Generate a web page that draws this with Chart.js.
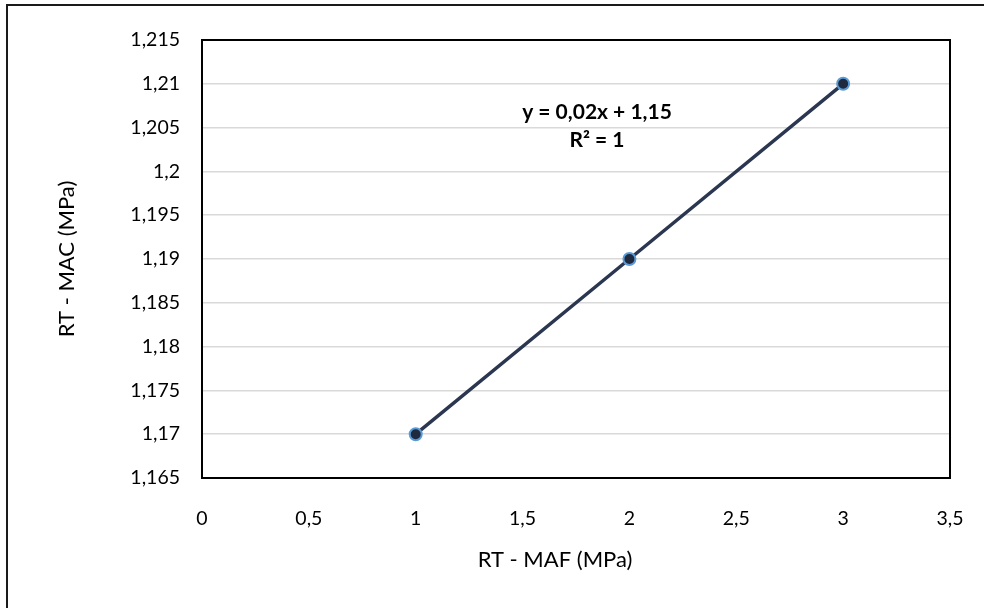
<!DOCTYPE html>
<html>
<head>
<meta charset="utf-8">
<script src="https://cdn.jsdelivr.net/npm/chart.js@4/dist/chart.umd.min.js"></script>
<style>
  html, body { margin: 0; padding: 0; background: #fff; }
  #wrap { width: 984px; height: 608px; position: relative; }
</style>
</head>
<body>
<div id="wrap"><canvas id="chart"></canvas></div>
<script>
const xValues = [1, 2, 3];
const yValues = [1.17, 1.19, 1.21];
const xTitle = 'RT - MAF (MPa)';
const yTitle = 'RT - MAC (MPa)';
const trendLines = ['y = 0,02x + 1,15', 'R\u00b2 = 1'];

const fontFamily = 'Lato, "Noto Sans", sans-serif';
const textColor = '#000';

function commaNum(v) {
    return String(Number(v.toFixed(3))).replace('.', ',');
}

// frame round the plot, outer frame and the free texts
const decorations = {
    id: 'decorations',
    afterDraw(chart) {
        const ctx = chart.ctx;
        const area = chart.chartArea;
        ctx.save();
        ctx.strokeStyle = '#000';
        ctx.lineWidth = 2;
        ctx.strokeRect(area.left, area.top, area.right - area.left, area.bottom - area.top);

        ctx.strokeStyle = '#1a1a1a';
        ctx.strokeRect(7, 5, 1100, 800);

        ctx.fillStyle = textColor;
        ctx.textAlign = 'center';
        ctx.textBaseline = 'middle';
        ctx.font = '22px ' + fontFamily;
        ctx.fillText(xTitle, 555, 560);
        ctx.save();
        ctx.translate(67, 259);
        ctx.rotate(-Math.PI / 2);
        ctx.fillText(yTitle, 0, 0);
        ctx.restore();

        ctx.font = 'bold 21px ' + fontFamily;
        ctx.fillText(trendLines[0], 597, 112);
        ctx.fillText(trendLines[1], 597, 140);
        ctx.restore();
    }
};

new Chart(document.getElementById('chart'), {
    type: 'scatter',
    data: {
        datasets: [{
            data: xValues.map((x, i) => ({ x: x, y: yValues[i] })),
            showLine: true,
            borderColor: '#2b3750',
            borderWidth: 3.5,
            pointRadius: 6,
            pointHoverRadius: 6,
            pointBackgroundColor: '#1f2a3f',
            pointBorderColor: '#5b9bd5',
            pointBorderWidth: 2
        }]
    },
    plugins: [decorations],
    options: {
        responsive: true,
        maintainAspectRatio: false,
        animation: false,
        layout: { padding: { left: 0, top: 40, right: 34, bottom: 0 } },
        plugins: {
            legend: { display: false },
            tooltip: { enabled: false }
        },
        scales: {
            x: {
                type: 'linear',
                min: 0,
                max: 3.5,
                ticks: {
                    stepSize: 0.5,
                    padding: 29,
                    color: textColor,
                    font: { family: fontFamily, size: 19.5 },
                    callback: v => commaNum(v)
                },
                grid: { display: false, drawTicks: false },
                border: { display: false },
                afterFit: scale => {
                    scale.height = 130;
                    // tick padding is also added sideways, drop it
                    scale.paddingLeft = 0;
                    scale.paddingRight = 0;
                }
            },
            y: {
                min: 1.165,
                max: 1.215,
                ticks: {
                    stepSize: 0.005,
                    padding: 22,
                    color: textColor,
                    font: { family: fontFamily, size: 19.5 },
                    callback: v => commaNum(v)
                },
                grid: { color: '#d9d9d9', lineWidth: 1.5, drawTicks: false },
                border: { display: false },
                afterFit: scale => { scale.width = 202; }
            }
        }
    }
});
</script>
</body>
</html>
